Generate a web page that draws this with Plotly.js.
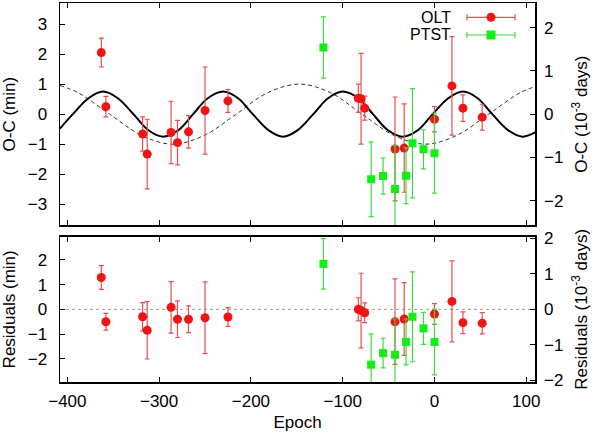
<!DOCTYPE html>
<html>
<head>
<meta charset="utf-8">
<script src="https://cdn.plot.ly/plotly-3.0.1.min.js"></script>
<style>
  html, body { margin: 0; padding: 0; background: #fff; }
  #chart { width: 600px; height: 437px; }
</style>
</head>
<body>
<div id="chart"></div>
<script>
// O-C values in minutes, 1e-3 day = 1.44 min
const MIN_PER_MDAY = 1.44;

const oltEpoch = [-363, -358, -318, -313, -287, -280, -268, -250, -225, -83, -80, -76, -43, -33, 0, 19, 31, 52];
const oltOC    = [2.05, 0.25, -0.66, -1.33, -0.61, -0.95, -0.59, 0.12, 0.44, 0.53, 0.51, 0.20, -1.16, -1.13, -0.17, 0.94, 0.20, -0.10];
const oltErr   = [0.48, 0.34, 0.57, 1.16, 1.04, 0.74, 0.54, 1.45, 0.38, 0.47, 1.51, 0.40, 1.73, 1.47, 0.42, 1.64, 0.44, 0.43];
const oltRes   = [1.29, -0.50, -0.30, -0.85, 0.08, -0.40, -0.40, -0.34, -0.31, 0.00, -0.05, -0.14, -0.50, -0.39, -0.19, 0.32, -0.54, -0.56];

const ptstEpoch = [-121, -69, -56, -43, -31, -24, -12, 0];
const ptstOC    = [2.22, -2.17, -2.06, -2.49, -2.05, -0.97, -1.17, -1.30];
const ptstErr   = [1.02, 1.24, 0.60, 1.45, 0.93, 1.82, 0.65, 1.33];
const ptstRes   = [1.84, -2.24, -1.77, -1.84, -1.32, -0.30, -0.77, -1.32];

// model curves (peaks, troughs, crossings)
const fitEpoch = [-408, -394, -377, -361, -345, -328, -312, -296, -279, -263, -247, -230, -214, -198, -181, -165, -149, -132, -116, -100, -83, -67, -51, -35, -18, -2, 15, 31, 47, 63, 80, 96, 110];
const fitOC    = [-0.48, 0, 0.53, 0.75, 0.53, 0, -0.53, -0.75, -0.53, 0, 0.53, 0.75, 0.53, 0, -0.53, -0.75, -0.53, 0, 0.53, 0.75, 0.53, 0, -0.53, -0.75, -0.53, 0, 0.53, 0.75, 0.53, 0, -0.53, -0.75, -0.60];
const ltEpoch  = [-408, -388, -354, -319, -285, -251, -216, -182, -147, -113, -79, -44, -10, 24, 59, 93, 110];
const ltOC     = [0.95, 0.71, 0, -0.71, -1.0, -0.71, 0, 0.71, 1.0, 0.71, 0, -0.71, -1.0, -0.71, 0, 0.71, 0.92];

const xTicks = [-400, -300, -200, -100, 0, 100];
const seriesNames = ["OLT", "PTST"];

const C = { red: "#f01414", redBar: "#e65050", green: "#14ee14", greenBar: "#3cdc3c", ink: "#000" };
const FONT = "Liberation Sans, Arial, Helvetica, sans-serif";
const XR = [-408, 109.5], TOP = 3.7, BOT = 2.94;

const pts = (x, y, e, color, bar, symbol, xa, ya) => ({
  x, y, xaxis: xa, yaxis: ya, type: "scatter", mode: "markers", showlegend: false, hoverinfo: "x+y",
  marker: { color, size: symbol === "square" ? 8 : 9, symbol, line: { width: 0 } },
  error_y: { type: "data", array: e, visible: true, color: bar, thickness: 1.2, width: 2.5 }
});

// empty traces so the right-hand (10^-3 days) axes get drawn
const holder = (xa, ya) => ({ x: [], y: [], xaxis: xa, yaxis: ya, type: "scatter", mode: "markers", showlegend: false, hoverinfo: "skip" });

const traces = [
  holder("x2", "y2"),
  holder("x", "y4"),
  { x: ltEpoch, y: ltOC, xaxis: "x2", yaxis: "y", type: "scatter", mode: "lines", showlegend: false,
    line: { color: "#333", width: 1, dash: "4px,3px", shape: "spline", smoothing: 1 } },
  { x: fitEpoch, y: fitOC, xaxis: "x2", yaxis: "y", type: "scatter", mode: "lines", showlegend: false,
    line: { color: C.ink, width: 2, shape: "spline", smoothing: 1 } },
  pts(oltEpoch, oltOC, oltErr, C.red, C.redBar, "circle", "x2", "y"),
  pts(ptstEpoch, ptstOC, ptstErr, C.green, C.greenBar, "square", "x2", "y"),
  pts(oltEpoch, oltRes, oltErr, C.red, C.redBar, "circle", "x", "y3"),
  pts(ptstEpoch, ptstRes, ptstErr, C.green, C.greenBar, "square", "x", "y3")
];

const ax = x => ({
  showline: true, linecolor: "#000", linewidth: 1.5, ticks: "inside", ticklen: 5, tickcolor: "#000",
  showgrid: false, zeroline: false, ticklabelstandoff: 8, ...x
});

const yTitle = t => ({ text: t, font: { size: 17 }, standoff: 12 });

// gnuplot style key: text, then a horizontal bar with caps and the symbol
function keyShapes(yp, bar, fill, kind) {
  const x0 = 0.8568, x1 = 0.9579, xm = 0.9074;
  const cap = xa => ({ type: "line", xref: "paper", yref: "paper", ysizemode: "pixel", yanchor: yp,
                       x0: xa, x1: xa, y0: -3, y1: 3, line: { color: bar, width: 1.2 } });
  return [
    { type: "line", xref: "paper", yref: "paper", x0, x1, y0: yp, y1: yp, line: { color: bar, width: 1.2 } },
    cap(x0), cap(x1),
    { type: kind, xref: "paper", yref: "paper", xsizemode: "pixel", ysizemode: "pixel", xanchor: xm, yanchor: yp,
      x0: -4.5, x1: 4.5, y0: -4.5, y1: 4.5, fillcolor: fill, line: { width: 0 } }
  ];
}
const keyY = [0.9623, 0.9156];

const layout = {
  width: 600, height: 437,
  margin: { l: 60, r: 65, t: 3, b: 55 },
  paper_bgcolor: "#fff", plot_bgcolor: "#fff",
  font: { family: FONT, size: 17, color: "#000" },
  showlegend: false,
  xaxis: ax({ range: XR, anchor: "y3", tickvals: xTicks, mirror: "ticks", ticklabelstandoff: 3,
              title: { text: "Epoch", font: { size: 17 }, standoff: 6 } }),
  xaxis2: ax({ range: XR, anchor: "y", tickvals: xTicks, mirror: "ticks", showticklabels: false, matches: "x" }),
  yaxis: ax({ domain: [0.4135, 1], anchor: "x2", range: [-TOP, TOP], tickvals: [-3, -2, -1, 0, 1, 2, 3], mirror: true,
              title: yTitle("O-C (min)") }),
  yaxis2: ax({ domain: [0.4135, 1], anchor: "x2", overlaying: "y", side: "right", showline: false,
               range: [-TOP / MIN_PER_MDAY, TOP / MIN_PER_MDAY], tickvals: [-2, -1, 0, 1, 2],
               title: yTitle("O-C (10<sup>-3</sup> days)") }),
  yaxis3: ax({ domain: [0, 0.3834], anchor: "x", range: [-BOT, BOT], tickvals: [-2, -1, 0, 1, 2], mirror: true,
               title: yTitle("Residuals (min)") }),
  yaxis4: ax({ domain: [0, 0.3834], anchor: "x", overlaying: "y3", side: "right", showline: false,
               range: [-BOT / MIN_PER_MDAY, BOT / MIN_PER_MDAY], tickvals: [-2, -1, 0, 1, 2],
               title: yTitle("Residuals (10<sup>-3</sup> days)") }),
  shapes: [
    { type: "line", xref: "x", yref: "y3", x0: XR[0], x1: XR[1], y0: 0, y1: 0,
      line: { color: "#999", width: 1, dash: "dot" }, layer: "below" },
    ...keyShapes(keyY[0], C.redBar, C.red, "circle"),
    ...keyShapes(keyY[1], C.greenBar, C.green, "rect")
  ],
  annotations: seriesNames.map((t, i) => ({
    text: t, xref: "paper", yref: "paper", x: 0.827, y: keyY[i], xanchor: "right", yanchor: "middle",
    showarrow: false, font: { size: 16 }
  }))
};

Plotly.newPlot("chart", traces, layout, { displayModeBar: false, staticPlot: true });
</script>
</body>
</html>
